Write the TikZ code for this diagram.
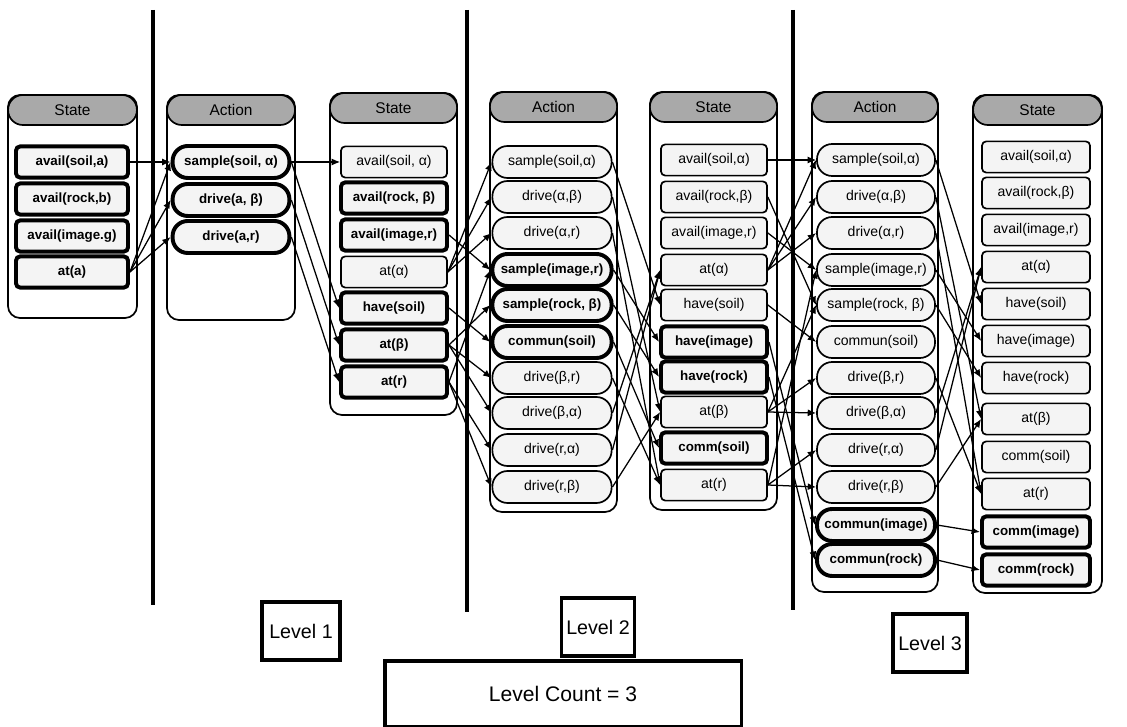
\documentclass[tikz,border=0pt]{standalone}
\usepackage{fontspec}
\setmainfont{Liberation Sans}
\usepackage{tikz}
\usetikzlibrary{arrows.meta, positioning}
\definecolor{hdrgray}{HTML}{A9A9A9}
\definecolor{cellfill}{HTML}{F4F4F4}

\begin{document}
\begin{tikzpicture}[x=0.025cm, y=-0.025cm,
    holder/.style={line width=1.2pt, rounded corners=0.3cm, fill=white},
    hdr/.style={draw, fill=hdrgray, rounded corners=0.37cm, minimum height=0.75cm,
      line width=1.2pt, font=\fontsize{11}{13}\selectfont},
    stbox/.style={draw, fill=cellfill, rounded corners=3pt, minimum height=0.78cm,
      inner sep=1pt, line width=1.2pt, font=\fontsize{10}{12}\selectfont},
    stbold/.style={stbox, line width=2.8pt, font=\fontsize{9.5}{12}\selectfont\bfseries},
    acbox/.style={draw, fill=cellfill, rounded corners=0.38cm, minimum height=0.8cm,
      inner sep=1pt, line width=1.2pt, font=\fontsize{10}{12}\selectfont},
    acbold/.style={acbox, line width=2.8pt, font=\fontsize{9.5}{12}\selectfont\bfseries},
    link/.style={line width=0.9pt, -{Latex[length=6pt,width=5pt]}},
    divider/.style={line width=2.2pt},
    lvl/.style={draw, line width=2.2pt, fill=white, font=\fontsize{14}{16}\selectfont}]
  \useasboundingbox (0,0) rectangle (1127,727);

  % level dividers
  \draw[divider] (153,10) -- (153,605);
  \draw[divider] (467,10) -- (467,612);
  \draw[divider] (793,10) -- (793,610);

  % State 1
  \draw[holder] (8,95) rectangle (137,318);
  \node[hdr, minimum width=3.22cm] (h1) at (72.5,110) {State};
  \node[stbold, minimum width=2.8cm] (s1a) at (72,162) {avail(soil,a)};
  \node[stbold, minimum width=2.8cm] (s1b) at (72,199) {avail(rock,b)};
  \node[stbold, minimum width=2.8cm] (s1c) at (72,236) {avail(image.g)};
  \node[stbold, minimum width=2.8cm] (s1d) at (72,272) {at(a)};

  % Action 1
  \draw[holder] (167,95) rectangle (295,320);
  \node[hdr, minimum width=3.2cm] (h2) at (231,110) {Action};
  \node[acbold, minimum width=2.92cm] (a1a) at (231,162) {sample(soil, α)};
  \node[acbold, minimum width=2.92cm] (a1b) at (231,200) {drive(a, β)};
  \node[acbold, minimum width=2.92cm] (a1c) at (231,237) {drive(a,r)};

  % State 2
  \draw[holder] (330,93) rectangle (457,415);
  \node[hdr, minimum width=3.18cm] (h3) at (393.5,108) {State};
  \node[stbox, minimum width=2.65cm] (s2a) at (394,162) {avail(soil, α)};
  \node[stbold, minimum width=2.65cm] (s2b) at (394,198) {avail(rock, β)};
  \node[stbold, minimum width=2.65cm] (s2c) at (394,235) {avail(image,r)};
  \node[stbox, minimum width=2.65cm] (s2d) at (394,272) {at(α)};
  \node[stbold, minimum width=2.65cm] (s2e) at (394,308) {have(soil)};
  \node[stbold, minimum width=2.65cm] (s2f) at (394,345) {at(β)};
  \node[stbold, minimum width=2.65cm] (s2g) at (394,382) {at(r)};

  % Action 2
  \draw[holder] (490,92) rectangle (617,512);
  \node[hdr, minimum width=3.18cm] (h4) at (553.5,107) {Action};
  \node[acbox, minimum width=2.98cm] (a2a) at (552,162) {sample(soil,α)};
  \node[acbox, minimum width=2.98cm] (a2b) at (552,197) {drive(α,β)};
  \node[acbox, minimum width=2.98cm] (a2c) at (552,233) {drive(α,r)};
  \node[acbold, minimum width=2.98cm] (a2d) at (552,270) {sample(image,r)};
  \node[acbold, minimum width=2.98cm] (a2e) at (552,305) {sample(rock, β)};
  \node[acbold, minimum width=2.98cm] (a2f) at (552,342) {commun(soil)};
  \node[acbox, minimum width=2.98cm] (a2g) at (552,378) {drive(β,r)};
  \node[acbox, minimum width=2.98cm] (a2h) at (552,413) {drive(β,α)};
  \node[acbox, minimum width=2.98cm] (a2i) at (552,450) {drive(r,α)};
  \node[acbox, minimum width=2.98cm] (a2j) at (552,487) {drive(r,β)};

  % State 3
  \draw[holder] (650,92) rectangle (777,510);
  \node[hdr, minimum width=3.18cm] (h5) at (713.5,107) {State};
  \node[stbox, minimum width=2.65cm] (s3a) at (714,160) {avail(soil,α)};
  \node[stbox, minimum width=2.65cm] (s3b) at (714,197) {avail(rock,β)};
  \node[stbox, minimum width=2.65cm] (s3c) at (714,233) {avail(image,r)};
  \node[stbox, minimum width=2.65cm] (s3d) at (714,270) {at(α)};
  \node[stbox, minimum width=2.65cm] (s3e) at (714,305) {have(soil)};
  \node[stbold, minimum width=2.65cm] (s3f) at (714,342) {have(image)};
  \node[stbold, minimum width=2.65cm] (s3g) at (714,377) {have(rock)};
  \node[stbox, minimum width=2.65cm] (s3h) at (714,412) {at(β)};
  \node[stbold, minimum width=2.65cm] (s3i) at (714,448) {comm(soil)};
  \node[stbox, minimum width=2.65cm] (s3j) at (714,485) {at(r)};

  % Action 3
  \draw[holder] (812,92) rectangle (938,592);
  \node[hdr, minimum width=3.15cm] (h6) at (875,107) {Action};
  \node[acbox, minimum width=2.95cm] (a3a) at (876,160) {sample(soil,α)};
  \node[acbox, minimum width=2.95cm] (a3b) at (876,197) {drive(α,β)};
  \node[acbox, minimum width=2.95cm] (a3c) at (876,233) {drive(α,r)};
  \node[acbox, minimum width=2.95cm] (a3d) at (876,270) {sample(image,r)};
  \node[acbox, minimum width=2.95cm] (a3e) at (876,305) {sample(rock, β)};
  \node[acbox, minimum width=2.95cm] (a3f) at (876,342) {commun(soil)};
  \node[acbox, minimum width=2.95cm] (a3g) at (876,378) {drive(β,r)};
  \node[acbox, minimum width=2.95cm] (a3h) at (876,413) {drive(β,α)};
  \node[acbox, minimum width=2.95cm] (a3i) at (876,450) {drive(r,α)};
  \node[acbox, minimum width=2.95cm] (a3j) at (876,487) {drive(r,β)};
  \node[acbold, minimum width=2.95cm] (a3k) at (876,525) {commun(image)};
  \node[acbold, minimum width=2.95cm] (a3l) at (876,560) {commun(rock)};

  % State 4
  \draw[holder] (973,95) rectangle (1102,593);
  \node[hdr, minimum width=3.22cm] (h7) at (1037.5,110) {State};
  \node[stbox, minimum width=2.7cm] (s4a) at (1036,157) {avail(soil,α)};
  \node[stbox, minimum width=2.7cm] (s4b) at (1036,193) {avail(rock,β)};
  \node[stbox, minimum width=2.7cm] (s4c) at (1036,230) {avail(image,r)};
  \node[stbox, minimum width=2.7cm] (s4d) at (1036,267) {at(α)};
  \node[stbox, minimum width=2.7cm] (s4e) at (1036,304) {have(soil)};
  \node[stbox, minimum width=2.7cm] (s4f) at (1036,341) {have(image)};
  \node[stbox, minimum width=2.7cm] (s4g) at (1036,378) {have(rock)};
  \node[stbox, minimum width=2.7cm] (s4h) at (1036,419) {at(β)};
  \node[stbox, minimum width=2.7cm] (s4i) at (1036,457) {comm(soil)};
  \node[stbox, minimum width=2.7cm] (s4j) at (1036,494) {at(r)};
  \node[stbold, minimum width=2.7cm] (s4k) at (1036,532) {comm(image)};
  \node[stbold, minimum width=2.7cm] (s4l) at (1036,570) {comm(rock)};

  % preconditions and effects
  \foreach \u/\v in {s1a/a1a, s1d/a1a, s1d/a1b, s1d/a1c,
      a1a/s2a, a1a/s2e, a1b/s2f, a1c/s2g,
      s2d/a2a, s2d/a2b, s2d/a2c, s2c/a2d, s2g/a2d, s2g/a2i, s2g/a2j,
      s2f/a2e, s2f/a2g, s2f/a2h, s2e/a2f,
      a2a/s3e, a2b/s3h, a2c/s3j, a2d/s3f, a2e/s3g, a2f/s3i,
      a2g/s3j, a2h/s3d, a2i/s3d, a2j/s3h,
      s3a/a3a, s3d/a3a, s3d/a3b, s3d/a3c, s3b/a3e, s3c/a3d, s3e/a3f,
      s3h/a3e, s3h/a3g, s3h/a3h, s3j/a3d, s3j/a3i, s3j/a3j, s3f/a3k, s3g/a3l,
      a3a/s4e, a3b/s4h, a3c/s4j, a3d/s4f, a3e/s4g, a3g/s4j,
      a3h/s4d, a3i/s4d, a3j/s4h, a3k/s4k, a3l/s4l}
    \draw[link] (\u.east) -- (\v.west);

  % level labels
  \node[lvl, minimum width=1.95cm, minimum height=1.45cm] (lv1) at (301,631) {Level 1};
  \node[lvl, minimum width=1.75cm, minimum height=1.45cm] (lv2) at (598,627) {Level 2};
  \node[lvl, minimum width=1.85cm, minimum height=1.45cm] (lv3) at (930,643) {Level 3};
  \node[lvl, minimum width=8.9cm, minimum height=1.65cm, font=\fontsize{15}{17}\selectfont]
    (lvc) at (563,694) {Level Count = 3};
\end{tikzpicture}
\end{document}
